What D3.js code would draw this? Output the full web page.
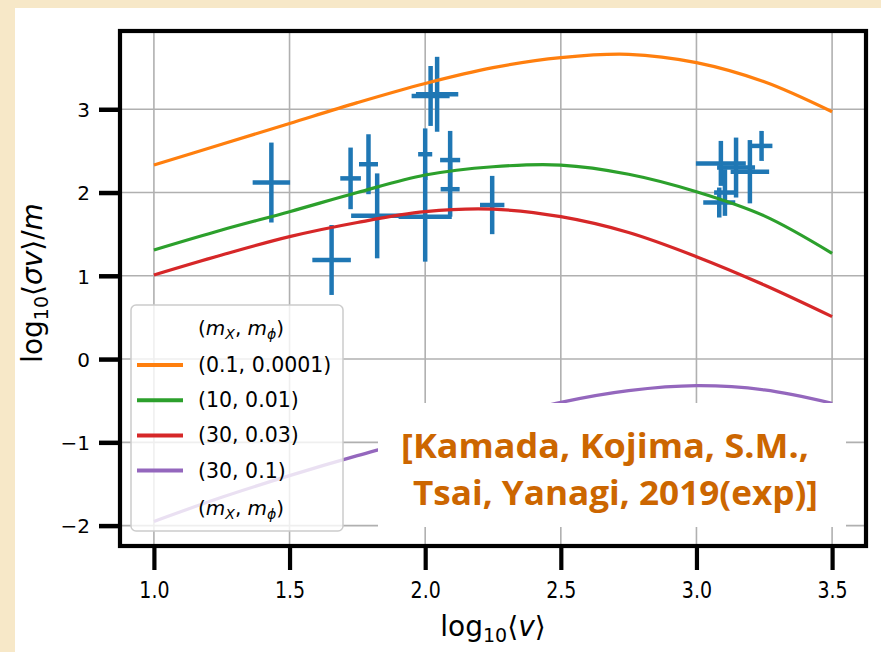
<!DOCTYPE html>
<html>
<head>
<meta charset="utf-8">
<script src="https://cdn.jsdelivr.net/npm/d3@7"></script>
<style>
  html, body { margin: 0; padding: 0; background: #f7e8c8; }
  svg { display: block; }
</style>
</head>
<body>
<svg id="chart" width="881" height="652"></svg>
<script>
// ---------------- data ----------------
const curveX = [1.0, 1.25, 1.5, 1.75, 2.0, 2.25, 2.5, 2.75, 3.0, 3.25, 3.5];
const orangeY = [2.33, 2.58, 2.83, 3.08, 3.31, 3.50, 3.62, 3.66, 3.56, 3.33, 2.97];
const greenY  = [1.31, 1.55, 1.77, 2.00, 2.21, 2.31, 2.33, 2.22, 2.01, 1.72, 1.27];
const redY    = [1.01, 1.25, 1.47, 1.64, 1.77, 1.80, 1.71, 1.52, 1.23, 0.89, 0.51];
const purpleY = [-1.95, -1.66, -1.40, -1.16, -0.94, -0.72, -0.52, -0.38, -0.32, -0.37, -0.53];

const seriesLabels = ["(0.1, 0.0001)", "(10, 0.01)", "(30, 0.03)", "(30, 0.1)"];
const seriesColors = ["#ff7f0e", "#2ca02c", "#d62728", "#9467bd"];

// error-bar data points
const ptX    = [1.433, 1.655, 1.725, 1.791, 1.823, 2.000, 2.000, 2.092, 2.092, 2.247, 2.020, 2.044, 3.090, 3.146, 3.197, 3.240, 3.084, 3.105];
const ptY    = [2.12, 1.19, 2.17, 2.34, 1.72, 2.46, 1.71, 2.39, 2.04, 1.85, 3.16, 3.18, 2.35, 2.30, 2.25, 2.56, 1.88, 2.00];
const ptXerr = [0.069, 0.071, 0.038, 0.035, 0.096, 0.026, 0.098, 0.037, 0.035, 0.045, 0.070, 0.078, 0.092, 0.070, 0.071, 0.040, 0.059, 0.040];
const ptYerr = [0.48, 0.42, 0.37, 0.36, 0.51, 0.31, 0.54, 0.35, 0.33, 0.35, 0.36, 0.45, 0.27, 0.36, 0.38, 0.18, 0.18, 0.28];

const xTicks = [1.0, 1.5, 2.0, 2.5, 3.0, 3.5];
const xTickLabels = ["1.0", "1.5", "2.0", "2.5", "3.0", "3.5"];
const yTicks = [-2, -1, 0, 1, 2, 3];
const yTickLabels = ["\u22122", "\u22121", "0", "1", "2", "3"];

const noteLines = ["[Kamada, Kojima, S.M.,", "Tsai, Yanagi, 2019(exp)]"];

// ---------------- layout ----------------
const L = 120, R = 866, T = 31, B = 546;
const svg = d3.select("#chart");

// white panel
svg.append("rect").attr("x", 15).attr("y", 8).attr("width", 866).attr("height", 644).attr("fill", "#ffffff");

const x = d3.scaleLinear().domain([0.875, 3.625]).range([L, R]);
const y = d3.scaleLinear().domain([-2.245, 3.94]).range([B, T]);

// grid
const grid = svg.append("g").attr("stroke", "#b0b0b0").attr("stroke-width", 1.6);
xTicks.forEach(v => grid.append("line").attr("x1", x(v)).attr("x2", x(v)).attr("y1", T).attr("y2", B));
yTicks.forEach(v => grid.append("line").attr("y1", y(v)).attr("y2", y(v)).attr("x1", L).attr("x2", R));

// error bars
const eb = svg.append("g").attr("stroke", "#1f77b4").attr("stroke-width", 4.5).attr("fill", "none");
ptX.forEach((px, i) => {
  const py = ptY[i];
  eb.append("line").attr("x1", x(px)).attr("x2", x(px)).attr("y1", y(py - ptYerr[i])).attr("y2", y(py + ptYerr[i]));
  eb.append("line").attr("x1", x(px - ptXerr[i])).attr("x2", x(px + ptXerr[i])).attr("y1", y(py)).attr("y2", y(py));
});

// curves
const line = d3.line().x(d => x(d[0])).y(d => y(d[1])).curve(d3.curveCatmullRom.alpha(0.5));
[orangeY, greenY, redY, purpleY].forEach((ys, k) => {
  svg.append("path")
    .datum(curveX.map((cx, i) => [cx, ys[i]]))
    .attr("d", line)
    .attr("fill", "none")
    .attr("stroke", seriesColors[k])
    .attr("stroke-width", 3.2);
});

// axes ticks (outside)
const axX = svg.append("g").attr("transform", `translate(0,${B})`)
  .call(d3.axisBottom(x).tickValues(xTicks).tickSize(24).tickFormat((d, i) => xTickLabels[i]));
axX.select(".domain").remove();
axX.selectAll(".tick line").attr("stroke", "#000").attr("stroke-width", 4.2);
axX.selectAll(".tick text")
  .attr("font-family", "DejaVu Sans").attr("font-size", 19).attr("fill", "#000")
  .attr("y", 0).attr("dy", 0)
  .attr("transform", "translate(0,52) scale(1,1.2)");

const axY = svg.append("g").attr("transform", `translate(${L},0)`)
  .call(d3.axisLeft(y).tickValues(yTicks).tickSize(21).tickFormat((d, i) => yTickLabels[yTicks.indexOf(d)]));
axY.select(".domain").remove();
axY.selectAll(".tick line").attr("stroke", "#000").attr("stroke-width", 4.5);
axY.selectAll(".tick text")
  .attr("font-family", "DejaVu Sans").attr("font-size", 20).attr("fill", "#000")
  .attr("x", -30).attr("dy", "0.36em");

// axis labels (mathtext-like)
const xl = svg.append("text").attr("x", 493).attr("y", 636).attr("text-anchor", "middle")
  .attr("font-family", "DejaVu Sans").attr("font-size", 28).attr("fill", "#000");
xl.append("tspan").text("log");
xl.append("tspan").attr("font-size", 19).attr("dy", 6).text("10");
xl.append("tspan").attr("dy", -6).text("\u27E8");
xl.append("tspan").attr("font-style", "italic").text("v");
xl.append("tspan").text("\u27E9");

const yl = svg.append("text").attr("transform", "translate(42,283) rotate(-90)").attr("text-anchor", "middle")
  .attr("font-family", "DejaVu Sans").attr("font-size", 28).attr("fill", "#000");
yl.append("tspan").text("log");
yl.append("tspan").attr("font-size", 19).attr("dy", 6).text("10");
yl.append("tspan").attr("dy", -6).text("\u27E8");
yl.append("tspan").attr("font-style", "italic").text("\u03C3v");
yl.append("tspan").text("\u27E9/");
yl.append("tspan").attr("font-style", "italic").text("m");

// legend
const lg = svg.append("g");
lg.append("rect").attr("x", 131).attr("y", 305).attr("width", 212).attr("height", 226).attr("rx", 5)
  .attr("fill", "#ffffff").attr("fill-opacity", 0.8).attr("stroke", "#cccccc").attr("stroke-width", 1.5);
function mathHeader(yy) {
  const t = lg.append("text").attr("x", 198).attr("y", yy).attr("font-family", "DejaVu Sans").attr("font-size", 20).attr("fill", "#000");
  t.append("tspan").text("(");
  t.append("tspan").attr("font-style", "italic").text("m");
  t.append("tspan").attr("font-style", "italic").attr("font-size", 14).attr("dy", 4).text("X");
  t.append("tspan").attr("dy", -4).text(", ");
  t.append("tspan").attr("font-style", "italic").text("m");
  t.append("tspan").attr("font-style", "italic").attr("font-size", 14).attr("dy", 4).text("\u03D5");
  t.append("tspan").attr("dy", -4).text(")");
}
mathHeader(335);
seriesLabels.forEach((lab, k) => {
  const ly = 365 + k * 35.2;
  lg.append("line").attr("x1", 137).attr("x2", 183).attr("y1", ly).attr("y2", ly)
    .attr("stroke", seriesColors[k]).attr("stroke-width", 4);
  lg.append("text").attr("x", 198).attr("y", ly + 7).attr("font-family", "DejaVu Sans").attr("font-size", 20.5)
    .attr("fill", "#000").text(lab);
});
mathHeader(515);

// annotation box
svg.append("rect").attr("x", 378).attr("y", 403).attr("width", 468).attr("height", 124).attr("fill", "#ffffff");
const note = svg.append("g").attr("font-family", "Open Sans").attr("font-weight", 700).attr("font-size", 34).attr("fill", "#cc6600");
note.append("text").attr("x", 401).attr("y", 458).attr("textLength", 408).attr("lengthAdjust", "spacingAndGlyphs").text(noteLines[0]);
note.append("text").attr("x", 413).attr("y", 505).attr("textLength", 405).attr("lengthAdjust", "spacingAndGlyphs").text(noteLines[1]);

// frame
svg.append("rect").attr("x", L).attr("y", T).attr("width", R - L).attr("height", B - T)
  .attr("fill", "none").attr("stroke", "#000").attr("stroke-width", 4.2);
</script>
</body>
</html>
